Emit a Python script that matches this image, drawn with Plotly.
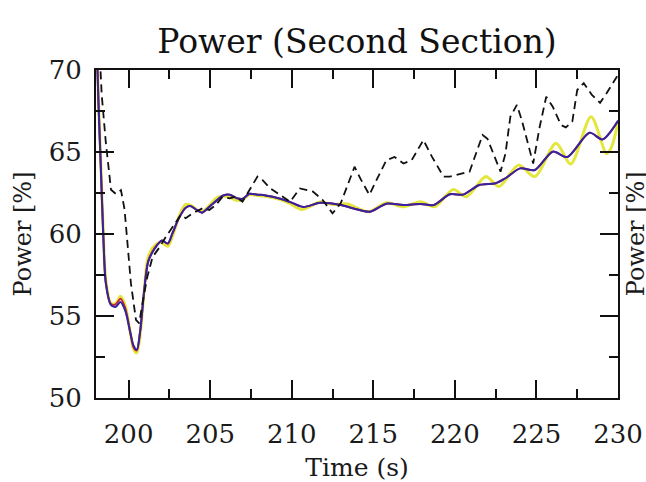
import plotly.graph_objects as go

# ---- data ----
blue_x = [198.0, 198.15, 198.3, 198.45, 198.6, 198.9, 199.2, 199.5, 199.8, 200.1, 200.3, 200.5,
          200.7, 200.95, 201.2, 201.6, 202.05, 202.4, 202.7, 203.1, 203.5, 203.8, 204.2, 204.5,
          205.0, 205.4, 205.8, 206.2, 206.6, 207.0, 207.4, 207.9, 208.4, 209.3, 209.9, 210.7,
          211.75, 213.0, 213.8, 214.8, 215.8, 216.85, 217.9, 218.7, 219.7, 220.5, 221.5, 222.5,
          223.1, 224.0, 224.9, 226.0, 226.9, 228.25, 229.05, 230.0]
blue_y = [73.0, 68.0, 63.9, 59.8, 57.0, 55.7, 55.55, 55.85, 55.3, 54.0, 53.2, 52.95,
          54.0, 56.5, 58.3, 59.1, 59.6, 59.43, 60.1, 61.0, 61.6, 61.7, 61.45, 61.3,
          61.7, 62.05, 62.35, 62.4, 62.2, 62.15, 62.45, 62.4, 62.35, 62.15, 61.95, 61.65,
          61.9, 61.77, 61.56, 61.36, 61.85, 61.77, 61.83, 61.77, 62.42, 62.4, 62.99, 63.09,
          63.4, 64.0, 63.9, 65.02, 64.7, 66.18, 65.77, 66.9]

red_x = [198.0, 198.15, 198.3, 198.45, 198.6, 198.9, 199.2, 199.5, 199.8, 200.1, 200.3, 200.5,
         200.7, 200.95, 201.2, 201.6, 202.05, 202.4, 202.7, 203.1, 203.5, 203.8, 204.2, 204.5,
         205.0, 205.4, 205.8, 206.2, 206.6, 207.0, 207.4, 207.9, 208.4, 209.3, 209.9, 210.7,
         211.75, 213.0, 213.8, 214.8, 215.8, 216.85, 217.9, 218.7, 219.7, 220.5, 221.5, 222.5,
         223.1, 224.0, 224.9, 226.0, 226.9, 228.25, 229.05, 230.0]
red_y = [73.2, 68.1, 64.0, 59.9, 57.1, 55.75, 55.7, 56.05, 55.45, 54.0, 53.1, 52.9,
         54.0, 56.5, 58.35, 59.15, 59.6, 59.4, 60.05, 61.0, 61.6, 61.7, 61.45, 61.3,
         61.7, 62.05, 62.35, 62.4, 62.2, 62.15, 62.45, 62.4, 62.35, 62.15, 61.95, 61.65,
         61.9, 61.77, 61.56, 61.36, 61.85, 61.77, 61.83, 61.77, 62.42, 62.4, 62.99, 63.09,
         63.4, 64.0, 63.9, 65.02, 64.7, 66.18, 65.77, 66.9]

yellow_x = [198.0, 198.15, 198.3, 198.45, 198.6, 198.9, 199.2, 199.5, 199.8, 200.1, 200.3, 200.5,
            200.7, 200.95, 201.2, 201.6, 202.0, 202.4, 202.7, 203.1, 203.5, 203.9, 204.3, 204.6,
            205.0, 205.4, 205.8, 206.2, 206.6, 207.0, 207.4, 207.9, 208.4, 209.3, 209.9, 210.6,
            211.75, 212.5, 213.4, 214.7, 215.8, 216.85, 217.9, 218.76, 219.9, 220.7, 221.9, 222.7,
            223.9, 224.9, 226.2, 227.1, 228.35, 229.3, 229.6, 230.0]
yellow_y = [73.5, 68.2, 64.2, 60.0, 57.2, 55.8, 55.75, 56.2, 55.6, 54.0, 53.0, 52.75,
            53.8, 56.5, 58.6, 59.3, 59.5, 59.25, 59.9, 61.1, 61.8, 61.7, 61.4, 61.4,
            61.8, 62.2, 62.3, 62.25, 62.05, 62.1, 62.4, 62.35, 62.3, 62.1, 61.85, 61.5,
            61.95, 61.8, 61.83, 61.36, 61.9, 61.66, 61.97, 61.66, 62.72, 62.27, 63.5, 62.89,
            64.2, 63.5, 65.53, 64.27, 67.15, 64.9, 65.3, 66.8]

black_x = [198.2, 198.35, 198.6, 198.92, 199.22, 199.53, 199.75, 199.95, 200.14, 200.45, 200.65,
           200.85, 201.15, 201.47, 201.9, 202.29, 202.7, 203.2, 203.5, 203.92, 204.53, 204.95,
           205.35, 205.75, 206.2, 206.55, 206.98, 207.3, 207.59, 207.9, 208.2, 208.66, 209.27,
           209.9, 210.5, 211.3, 211.9, 212.5, 213.0, 213.85, 214.25, 214.76, 215.2, 215.8, 216.3,
           216.85, 217.35, 218.07, 218.6, 219.3, 219.68, 220.3, 220.9, 221.7, 222.0, 222.8, 223.1,
           223.4, 223.8, 224.1, 224.8, 225.2, 225.6, 226.0, 226.5, 226.8, 227.2, 227.5, 227.9,
           228.4, 228.9, 229.3, 229.7, 230.0]
black_y = [71.5, 68.5, 65.6, 62.7, 62.44, 62.68, 61.5, 59.4, 57.0, 54.76, 54.55,
           55.8, 57.4, 58.6, 59.2, 59.84, 60.45, 61.16, 60.96, 61.26, 61.57, 61.46,
           61.77, 62.27, 62.17, 62.27, 61.97, 62.48, 62.99, 63.5, 63.3, 62.8, 62.4,
           61.96, 62.78, 62.58, 62.07, 61.26, 61.87, 64.1, 63.3, 62.38, 63.3, 64.5, 64.7,
           64.3, 64.5, 65.73, 64.7, 63.5, 63.5, 63.66, 63.8, 66.04, 65.8, 63.8, 64.9,
           67.15, 67.87, 66.95, 64.3, 66.54, 68.37, 67.76, 66.65, 66.5, 66.85, 68.78, 69.2,
           68.48, 68.0, 68.58, 69.19, 69.7]

x_ticks = [200, 205, 210, 215, 220, 225, 230]
y_ticks = [50, 55, 60, 65, 70]

TITLE = "Power (Second Section)"
X_TITLE = "Time (s)"
Y_TITLE = "Power [%]"

FONT = "DejaVu Serif"
TXT = "#1a1a1a"

fig = go.Figure()
fig.add_trace(go.Scatter(x=yellow_x, y=yellow_y, mode="lines",
                         line=dict(color="#e4e63c", width=3, shape="spline", smoothing=0.8)))
fig.add_trace(go.Scatter(x=red_x, y=red_y, mode="lines",
                         line=dict(color="#c42a3a", width=2, shape="spline", smoothing=0.8)))
fig.add_trace(go.Scatter(x=blue_x, y=blue_y, mode="lines",
                         line=dict(color="#3424a0", width=2, shape="spline", smoothing=0.8)))
fig.add_trace(go.Scatter(x=black_x, y=black_y, mode="lines",
                         line=dict(color="#111111", width=1.8, dash="8px,5px")))

axis_common = dict(
    showgrid=False, zeroline=False, showline=True, linecolor="#111111", linewidth=2,
    mirror="ticks", ticks="inside", ticklen=18, tickwidth=1.5, tickcolor="#111111",
    tickfont=dict(family=FONT, size=26, color=TXT), automargin=False,
)

fig.update_xaxes(
    **axis_common, range=[198, 230], tickvals=x_ticks, ticklabelstandoff=12,
    minor=dict(ticks="inside", ticklen=9, dtick=2.5, tick0=200, tickwidth=1.5, tickcolor="#111111"),
    title=dict(text=X_TITLE, font=dict(family=FONT, size=25, color=TXT), standoff=12),
)
fig.update_yaxes(
    **axis_common, range=[50, 70], tickvals=y_ticks, ticklabelstandoff=7,
    minor=dict(ticks="inside", ticklen=9, dtick=2.5, tick0=50, tickwidth=1.5, tickcolor="#111111"),
    title=dict(text=Y_TITLE, font=dict(family=FONT, size=24, color=TXT), standoff=10),
)

fig.add_annotation(text=Y_TITLE, xref="paper", yref="paper", x=1.035, y=0.5,
                   xanchor="center", yanchor="middle", textangle=-90, showarrow=False,
                   font=dict(family=FONT, size=24, color=TXT))

fig.update_layout(
    width=646, height=482,
    margin=dict(l=96, r=28, t=70, b=84, autoexpand=False),
    paper_bgcolor="white", plot_bgcolor="white",
    showlegend=False,
    title=dict(text=TITLE, x=0.5, xref="paper", xanchor="center", y=0.913, yref="container",
               yanchor="middle", font=dict(family=FONT, size=33, color="#111111")),
)

fig.write_html("out.html")
